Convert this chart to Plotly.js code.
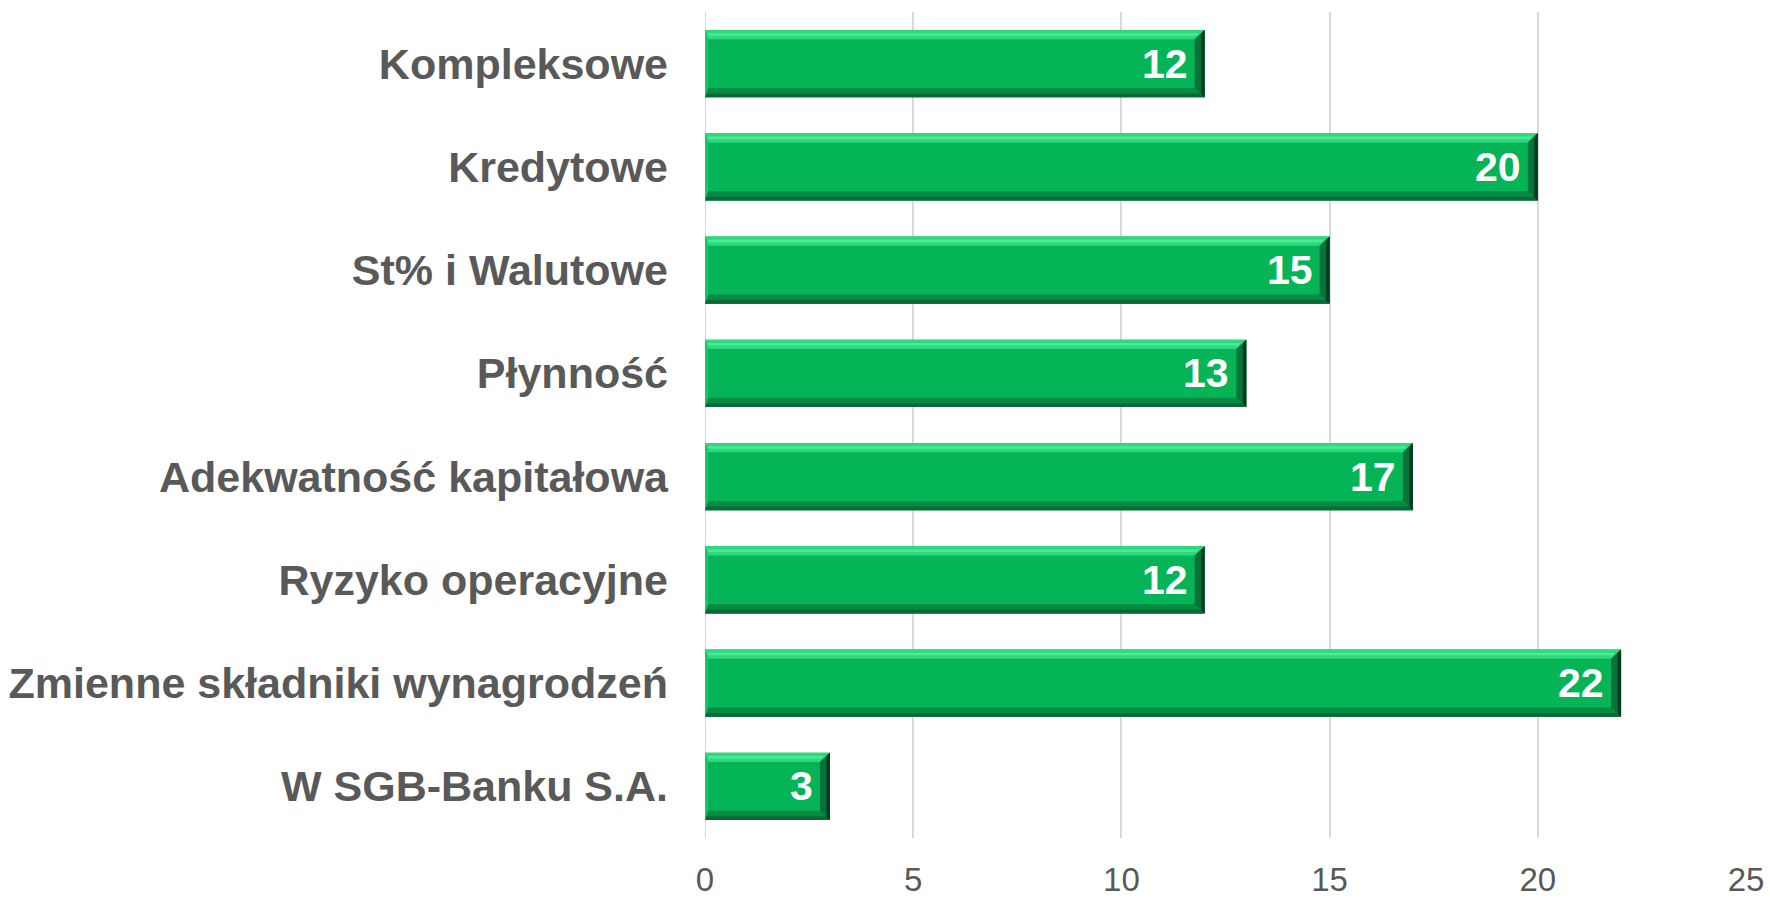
<!DOCTYPE html>
<html>
<head>
<meta charset="utf-8">
<script src="https://cdn.plot.ly/plotly-3.0.1.min.js"></script>
<style>
html,body{margin:0;padding:0;background:#fff;}
#chart{width:1770px;height:898px;}
</style>
</head>
<body>
<div id="chart"></div>
<script>
const categories = [
  "Kompleksowe",
  "Kredytowe",
  "St% i Walutowe",
  "Płynność",
  "Adekwatność kapitałowa",
  "Ryzyko operacyjne",
  "Zmienne składniki wynagrodzeń",
  "W SGB-Banku S.A."
];
const values = [12, 20, 15, 13, 17, 12, 22, 3];
const xTicks = [0, 5, 10, 15, 20, 25];

const BAR_W = 0.65;
const FONT = "Arial, 'Liberation Sans', sans-serif";

const trace = {
  type: "bar",
  orientation: "h",
  x: values,
  y: categories.map((c, i) => i),
  width: BAR_W,
  marker: {color: "#05B456", line: {width: 0}},
  hoverinfo: "skip",
  showlegend: false
};

// bevel decoration derived from data values
const shapes = [];
const annotations = [];
values.forEach((v, i) => {
  const top = i - BAR_W / 2, bot = i + BAR_W / 2;
  const ex = 0.24; // bevel depth in x units
  const ey = 0.09; // bevel depth in y units
  // top light bevel
  shapes.push({type: "path", xref: "x", yref: "y", layer: "above",
    path: `M 0 ${top} L ${v} ${top} L ${v - ex} ${top + ey} L ${ex * 0.3} ${top + ey} Z`,
    fillcolor: "#2ED87C", line: {width: 0}});
  shapes.push({type: "path", xref: "x", yref: "y", layer: "above",
    path: `M ${ex*0.3} ${top + ey*0.35} L ${v - ex*0.6} ${top + ey*0.35} L ${v - ex*0.8} ${top + ey*0.6} L ${ex*0.3} ${top + ey*0.6} Z`,
    fillcolor: "#4BEA96", line: {width: 0}});
  // bottom dark bevel
  shapes.push({type: "path", xref: "x", yref: "y", layer: "above",
    path: `M 0 ${bot} L ${v} ${bot} L ${v - ex} ${bot - ey} L ${ex * 0.3} ${bot - ey} Z`,
    fillcolor: "#078A43", line: {width: 0}});
  shapes.push({type: "path", xref: "x", yref: "y", layer: "above",
    path: `M 0 ${bot} L ${v} ${bot} L ${v - ex*0.4} ${bot - ey*0.4} L 0 ${bot - ey*0.4} Z`,
    fillcolor: "#0A6A36", line: {width: 0}});
  // left light bevel
  shapes.push({type: "path", xref: "x", yref: "y", layer: "above",
    path: `M 0 ${top} L ${ex*0.3} ${top + ey} L ${ex*0.3} ${bot - ey} L 0 ${bot} Z`,
    fillcolor: "#19C76A", line: {width: 0}});
  // right dark bevel
  shapes.push({type: "path", xref: "x", yref: "y", layer: "above",
    path: `M ${v} ${top} L ${v} ${bot} L ${v - ex} ${bot - ey} L ${v - ex} ${top + ey} Z`,
    fillcolor: "#06743A", line: {width: 0}});
  shapes.push({type: "path", xref: "x", yref: "y", layer: "above",
    path: `M ${v} ${top} L ${v} ${bot} L ${v - ex*0.35} ${bot - ey*0.35} L ${v - ex*0.35} ${top + ey*0.35} Z`,
    fillcolor: "#023C1D", line: {width: 0}});
  annotations.push({
    x: v, y: i, xref: "x", yref: "y",
    text: String(v), showarrow: false,
    xanchor: "right", yanchor: "middle", xshift: -15, yshift: 0,
    font: {family: FONT, size: 41, color: "#FFFFFF", weight: "bold"}
  });
});

const layout = {
  width: 1770, height: 898,
  margin: {l: 705, r: 24, t: 12, b: 60, pad: 0},
  paper_bgcolor: "#FFFFFF",
  plot_bgcolor: "#FFFFFF",
  bargap: 0.35,
  xaxis: {
    range: [0, 25],
    tickvals: xTicks,
    ticktext: xTicks.map(String),
    showgrid: true, gridcolor: "#D9D9D9", gridwidth: 2,
    zeroline: false, showline: false, ticks: "",
    ticklabelstandoff: 19,
    tickfont: {family: FONT, size: 33, color: "#595959"},
    fixedrange: true
  },
  yaxis: {
    type: "linear",
    range: [7.5, -0.5],
    tickvals: categories.map((c, i) => i),
    ticktext: categories,
    showgrid: false, zeroline: false, showline: false, ticks: "",
    ticklabelstandoff: 36,
    tickfont: {family: FONT, size: 43, color: "#595959", weight: "bold"},
    fixedrange: true
  },
  shapes: [
    {type: "line", xref: "x", yref: "paper", x0: 0, x1: 0, y0: 0, y1: 1,
     line: {color: "#D9D9D9", width: 2}, layer: "below"}
  ].concat(shapes),
  annotations: annotations
};

Plotly.newPlot("chart", [trace], layout, {displayModeBar: false, staticPlot: true});
</script>
</body>
</html>
